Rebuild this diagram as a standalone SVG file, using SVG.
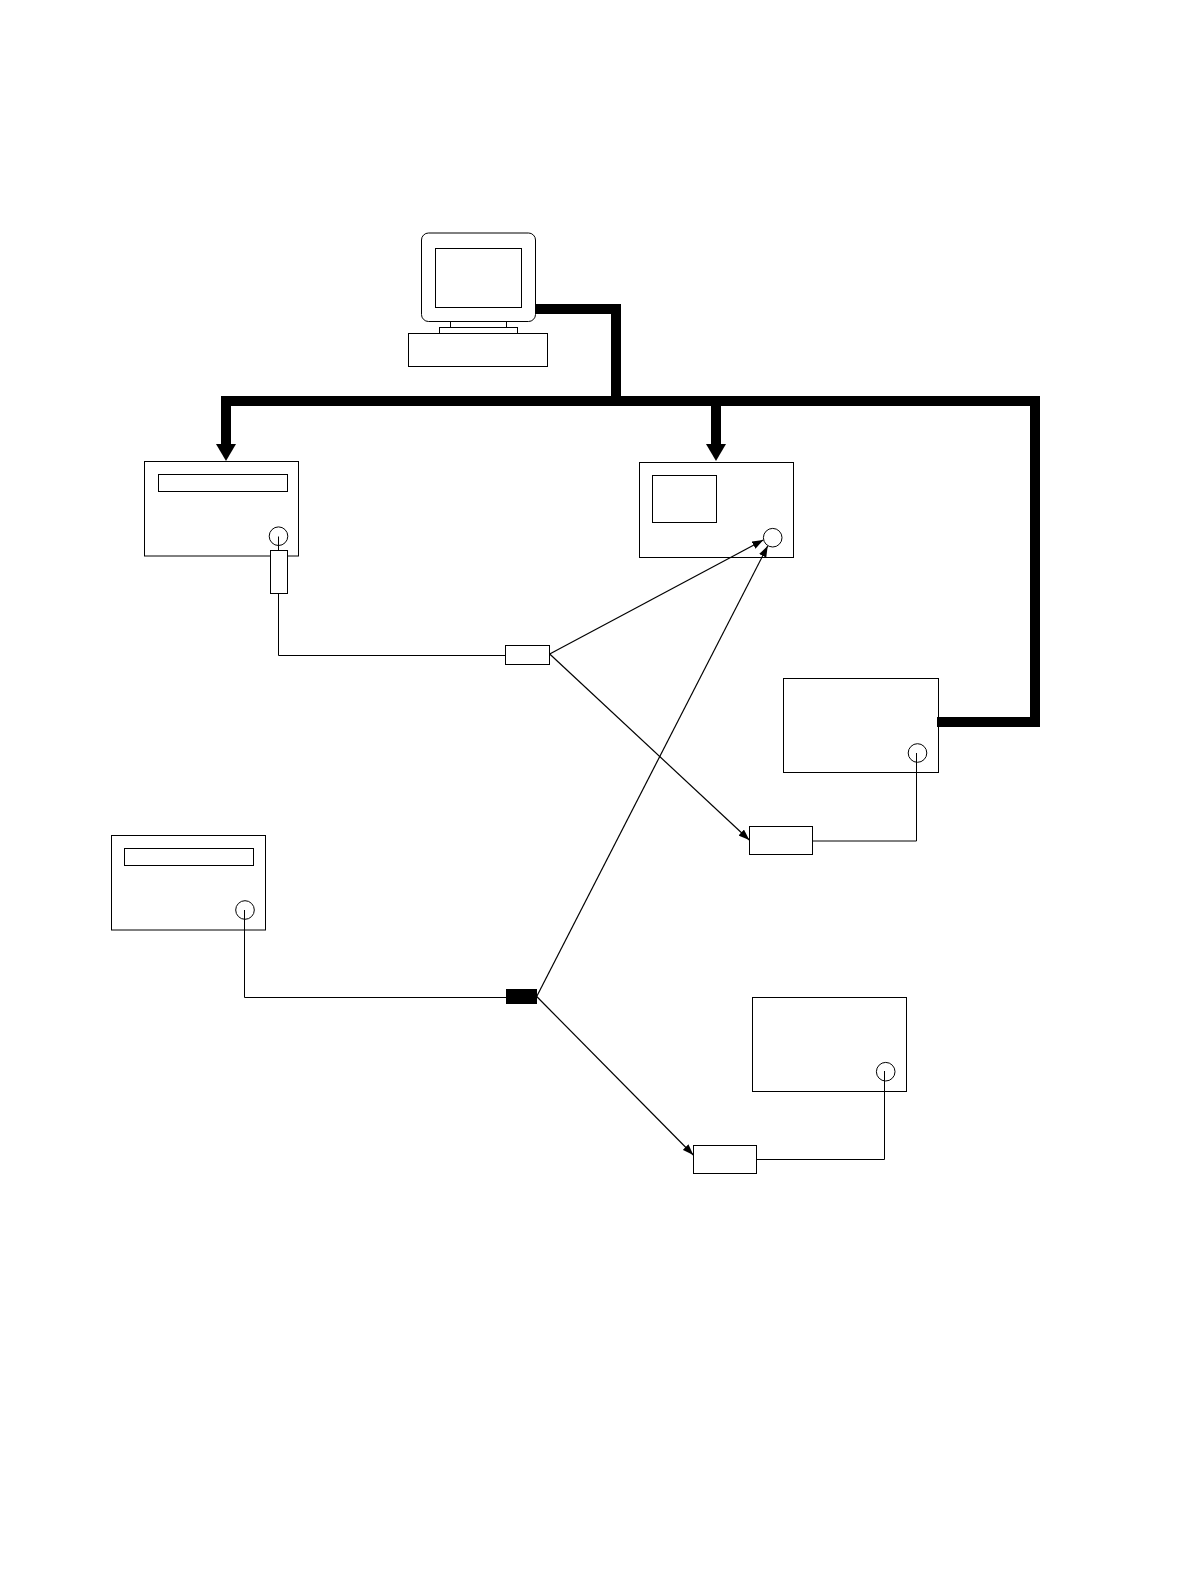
<svg xmlns="http://www.w3.org/2000/svg" width="1190" height="1584" viewBox="0 0 1190 1584">
<style>
.s{fill:#fff;stroke:#000;stroke-width:1}
.c{fill:none;stroke:#000;stroke-width:1}
.d{fill:none;stroke:#000;stroke-width:1.2}
.t{fill:none;stroke:#000;stroke-width:10;stroke-linejoin:miter}
.k{fill:#000;stroke:none}
</style>
<defs>
<marker id="a" markerUnits="userSpaceOnUse" markerWidth="12" markerHeight="8" refX="11" refY="4" orient="auto"><path d="M0 0L11 4L0 8Z" fill="#000"/></marker>
</defs>
<rect width="1190" height="1584" fill="#fff"/>
<g id="computer">
<rect class="s" x="450.5" y="321.5" width="56" height="6"/>
<rect class="s" x="439.5" y="327.5" width="78" height="6"/>
<rect class="s" x="408.5" y="333.5" width="139" height="33"/>
<rect class="s" x="421.5" y="233" width="114" height="88.5" rx="7"/>
<rect class="s" x="435.5" y="248.5" width="86" height="59"/>
</g>
<g id="box1">
<rect class="s" x="144.5" y="461.5" width="154" height="94.5"/>
<rect class="s" x="158.5" y="474.5" width="129" height="17"/>
<circle class="s" cx="278.5" cy="536.2" r="9.3"/>
</g>
<g id="box2">
<rect class="s" x="639.5" y="462.5" width="154" height="95"/>
<rect class="s" x="652.5" y="475.5" width="64" height="47"/>
<circle class="s" cx="772.7" cy="537.7" r="9.3"/>
</g>
<g id="box3">
<rect class="s" x="783.5" y="678.5" width="155" height="94"/>
<circle class="s" cx="917.5" cy="753" r="9.3"/>
</g>
<g id="box4">
<rect class="s" x="111.5" y="835.5" width="154" height="94.5"/>
<rect class="s" x="124.5" y="848.5" width="129" height="17"/>
<circle class="s" cx="245" cy="910" r="9.3"/>
</g>
<g id="box5">
<rect class="s" x="752.5" y="997.5" width="154" height="94"/>
<circle class="s" cx="885.7" cy="1071.7" r="9.3"/>
</g>
<g id="connectors">
<path class="t" d="M535 309H616V401"/>
<path class="t" d="M226 444V401H1035V722H937"/>
<path class="t" d="M716 401V444"/>
<path class="k" d="M216 444H236L226 461Z"/>
<path class="k" d="M706 444H726L716 461Z"/>
<path class="c" d="M278.5 536.5V655.5H505.5"/>
<path class="c" d="M916.5 753V841H812.5"/>
<path class="c" d="M244.5 910V997.5H506"/>
<path class="c" d="M884.5 1071V1159.5H756.5"/>
<path class="d" marker-end="url(#a)" d="M549.7 654L763.3 540"/>
<path class="d" marker-end="url(#a)" d="M549.7 654L749.3 840"/>
<path class="d" marker-end="url(#a)" d="M536.7 996.5L767.7 546"/>
<path class="d" marker-end="url(#a)" d="M536.7 996.5L693.3 1155"/>
</g>
<g id="connector1"><rect class="s" x="270.5" y="550.5" width="17" height="43"/></g>
<g id="splitter1"><rect class="s" x="505.5" y="645.5" width="44" height="19"/></g>
<g id="adapter1"><rect class="s" x="749.5" y="826.5" width="63" height="28"/></g>
<g id="splitter2"><rect class="k" x="506" y="989" width="31" height="15"/></g>
<g id="adapter2"><rect class="s" x="693.5" y="1145.5" width="63" height="28"/></g>
</svg>
